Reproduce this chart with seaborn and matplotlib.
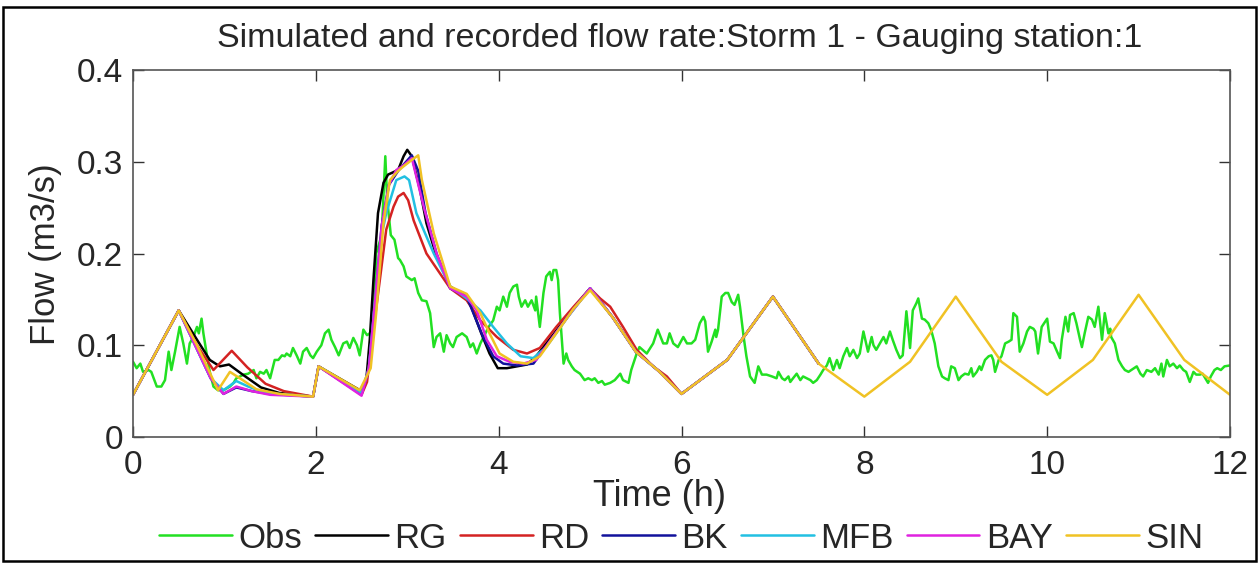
import numpy as np
import pandas as pd
import matplotlib
matplotlib.use('Agg')
import matplotlib.pyplot as plt
from matplotlib.patches import Rectangle
import seaborn as sns

#
# data (time in h, flow in m3/s)
#
obs_t = [0.00, 0.04, 0.08, 0.11, 0.17, 0.20, 0.26, 0.31, 0.35, 0.39, 0.42, 0.46, 0.51, 0.55, 0.59, 0.62,
         0.66, 0.70, 0.72, 0.75, 0.77, 0.81, 0.84, 0.88, 0.93, 0.99, 1.06, 1.10, 1.13, 1.21, 1.26, 1.32,
         1.35, 1.39, 1.43, 1.46, 1.50, 1.55, 1.59, 1.63, 1.66, 1.68, 1.72, 1.75, 1.79, 1.83, 1.86, 1.90,
         1.94, 1.97, 2.01, 2.06, 2.10, 2.14, 2.17, 2.21, 2.25, 2.30, 2.34, 2.37, 2.41, 2.45, 2.48, 2.52,
         2.56, 2.59, 2.63, 2.66, 2.72, 2.76, 2.78, 2.82, 2.86, 2.90, 2.92, 2.96, 2.99, 3.05, 3.08, 3.12,
         3.16, 3.21, 3.25, 3.29, 3.32, 3.36, 3.40, 3.43, 3.47, 3.50, 3.54, 3.60, 3.65, 3.69, 3.72, 3.76,
         3.80, 3.84, 3.89, 3.94, 3.98, 4.01, 4.05, 4.09, 4.12, 4.16, 4.20, 4.22, 4.25, 4.29, 4.32, 4.36,
         4.40, 4.41, 4.45, 4.49, 4.52, 4.56, 4.58, 4.60, 4.63, 4.65, 4.67, 4.71, 4.74, 4.76, 4.80, 4.83,
         4.89, 4.94, 4.98, 5.02, 5.05, 5.09, 5.13, 5.16, 5.22, 5.27, 5.33, 5.36, 5.42, 5.45, 5.51, 5.54,
         5.62, 5.69, 5.74, 5.80, 5.84, 5.87, 5.91, 5.96, 6.02, 6.06, 6.11, 6.15, 6.20, 6.24, 6.26, 6.29,
         6.33, 6.37, 6.38, 6.40, 6.44, 6.48, 6.51, 6.55, 6.58, 6.62, 6.64, 6.68, 6.71, 6.75, 6.80, 6.84,
         6.88, 6.93, 6.99, 7.04, 7.06, 7.10, 7.13, 7.17, 7.19, 7.22, 7.26, 7.30, 7.33, 7.37, 7.41, 7.44,
         7.48, 7.52, 7.55, 7.59, 7.62, 7.66, 7.70, 7.73, 7.77, 7.81, 7.84, 7.88, 7.92, 7.95, 7.99, 8.02,
         8.04, 8.08, 8.10, 8.13, 8.17, 8.21, 8.24, 8.28, 8.31, 8.35, 8.39, 8.42, 8.46, 8.50, 8.53, 8.57,
         8.59, 8.63, 8.66, 8.70, 8.73, 8.77, 8.81, 8.85, 8.88, 8.92, 8.95, 8.99, 9.03, 9.06, 9.10, 9.14,
         9.17, 9.19, 9.23, 9.26, 9.28, 9.32, 9.36, 9.39, 9.41, 9.43, 9.47, 9.50, 9.54, 9.58, 9.61, 9.63,
         9.67, 9.70, 9.74, 9.78, 9.81, 9.85, 9.87, 9.90, 9.94, 9.98, 10.00, 10.03, 10.07, 10.10, 10.14, 10.16,
         10.20, 10.23, 10.25, 10.29, 10.32, 10.36, 10.38, 10.41, 10.45, 10.49, 10.52, 10.56, 10.60, 10.63, 10.67, 10.69,
         10.70, 10.74, 10.78, 10.82, 10.85, 10.89, 10.92, 10.98, 11.02, 11.05, 11.09, 11.14, 11.18, 11.22, 11.25, 11.27,
         11.31, 11.34, 11.38, 11.42, 11.45, 11.49, 11.52, 11.56, 11.60, 11.63, 11.67, 11.70, 11.76, 11.79, 11.83, 11.86,
         11.90, 11.94, 12.00]
obs_q = [0.082, 0.075, 0.080, 0.071, 0.073, 0.071, 0.055, 0.055, 0.062, 0.093, 0.073, 0.093, 0.120, 0.102, 0.080, 0.102,
         0.109, 0.120, 0.113, 0.129, 0.113, 0.088, 0.071, 0.055, 0.051, 0.051, 0.055, 0.059, 0.064, 0.068, 0.069, 0.073,
         0.064, 0.071, 0.069, 0.073, 0.064, 0.084, 0.084, 0.089, 0.088, 0.091, 0.088, 0.097, 0.089, 0.080, 0.093, 0.097,
         0.089, 0.086, 0.093, 0.100, 0.113, 0.117, 0.106, 0.098, 0.089, 0.102, 0.104, 0.097, 0.108, 0.100, 0.089, 0.117,
         0.111, 0.113, 0.124, 0.200, 0.220, 0.306, 0.260, 0.220, 0.215, 0.195, 0.193, 0.186, 0.175, 0.171, 0.173, 0.157,
         0.149, 0.148, 0.135, 0.098, 0.109, 0.113, 0.093, 0.111, 0.102, 0.098, 0.109, 0.113, 0.109, 0.098, 0.102, 0.091,
         0.102, 0.110, 0.120, 0.127, 0.142, 0.138, 0.153, 0.142, 0.157, 0.164, 0.166, 0.153, 0.142, 0.149, 0.142, 0.149,
         0.138, 0.153, 0.120, 0.157, 0.175, 0.180, 0.171, 0.182, 0.182, 0.171, 0.135, 0.080, 0.091, 0.084, 0.077, 0.073,
         0.069, 0.062, 0.064, 0.062, 0.064, 0.059, 0.061, 0.057, 0.059, 0.062, 0.069, 0.062, 0.059, 0.073, 0.091, 0.098,
         0.091, 0.102, 0.117, 0.102, 0.102, 0.113, 0.102, 0.098, 0.109, 0.102, 0.102, 0.106, 0.124, 0.131, 0.126, 0.093,
         0.104, 0.117, 0.109, 0.117, 0.153, 0.157, 0.157, 0.147, 0.144, 0.155, 0.142, 0.109, 0.088, 0.066, 0.059, 0.077,
         0.068, 0.068, 0.066, 0.064, 0.071, 0.064, 0.062, 0.066, 0.060, 0.064, 0.069, 0.062, 0.066, 0.064, 0.062, 0.059,
         0.062, 0.068, 0.073, 0.078, 0.086, 0.073, 0.084, 0.075, 0.088, 0.097, 0.088, 0.095, 0.086, 0.091, 0.115, 0.102,
         0.093, 0.109, 0.100, 0.095, 0.102, 0.109, 0.102, 0.115, 0.106, 0.095, 0.086, 0.089, 0.137, 0.097, 0.138, 0.146,
         0.151, 0.129, 0.128, 0.124, 0.117, 0.102, 0.077, 0.066, 0.064, 0.062, 0.077, 0.075, 0.062, 0.066, 0.069, 0.068,
         0.075, 0.066, 0.071, 0.077, 0.073, 0.084, 0.088, 0.089, 0.084, 0.071, 0.084, 0.088, 0.102, 0.104, 0.106, 0.135,
         0.131, 0.093, 0.102, 0.115, 0.120, 0.118, 0.115, 0.091, 0.120, 0.126, 0.129, 0.104, 0.102, 0.095, 0.086, 0.106,
         0.131, 0.115, 0.133, 0.135, 0.124, 0.106, 0.098, 0.113, 0.131, 0.128, 0.120, 0.142, 0.106, 0.135, 0.113, 0.118,
         0.109, 0.102, 0.084, 0.077, 0.073, 0.071, 0.073, 0.077, 0.069, 0.066, 0.073, 0.071, 0.075, 0.068, 0.080, 0.066,
         0.084, 0.077, 0.080, 0.075, 0.078, 0.073, 0.071, 0.060, 0.071, 0.068, 0.068, 0.069, 0.059, 0.066, 0.073, 0.075,
         0.073, 0.077, 0.078]

rg_t = [0, 0.5, 0.70, 0.84, 0.95, 1.05, 1.2, 1.4, 1.6, 1.97, 2.03, 2.50, 2.55, 2.59, 2.63, 2.68, 2.74, 2.79,
        2.90, 2.96, 3.00, 3.05, 3.14, 3.21, 3.32, 3.47, 3.62, 3.70, 3.81, 3.90, 3.99, 4.09, 4.20, 4.31, 4.41,
        4.6, 4.8, 5.0, 5.25, 5.5, 5.75, 6.0, 6.5, 7.0, 7.5]
rg_q = [0.046, 0.138, 0.106, 0.084, 0.077, 0.079, 0.068, 0.054, 0.048, 0.044, 0.077, 0.050, 0.060, 0.106, 0.171,
        0.244, 0.277, 0.286, 0.291, 0.306, 0.313, 0.306, 0.269, 0.233, 0.197, 0.164, 0.155, 0.142, 0.113, 0.091,
        0.075, 0.075, 0.077, 0.079, 0.088, 0.112, 0.138, 0.162, 0.130, 0.093, 0.072, 0.047, 0.084, 0.153, 0.080]

rd_t = [0, 0.5, 0.70, 0.88, 1.08, 1.25, 1.45, 1.65, 1.97, 2.03, 2.50, 2.56, 2.63, 2.70, 2.77, 2.85, 2.90, 2.96,
        3.01, 3.07, 3.21, 3.36, 3.47, 3.65, 3.80, 3.98, 4.16, 4.31, 4.45, 4.63, 4.82, 5.00, 5.11, 5.22, 5.36,
        5.51, 5.69, 5.84, 6.0, 6.5, 7.0, 7.5]
rd_q = [0.046, 0.138, 0.100, 0.073, 0.094, 0.076, 0.058, 0.050, 0.044, 0.077, 0.046, 0.060, 0.117, 0.171, 0.226,
        0.251, 0.262, 0.266, 0.258, 0.236, 0.200, 0.178, 0.162, 0.149, 0.127, 0.109, 0.095, 0.091, 0.097, 0.120,
        0.142, 0.162, 0.151, 0.142, 0.120, 0.095, 0.077, 0.066, 0.047, 0.084, 0.153, 0.080]

bk_t = [0, 0.5, 0.85, 0.99, 1.13, 1.3, 1.5, 1.97, 2.03, 2.50, 2.58, 2.65, 2.72, 2.80, 2.90, 2.97, 3.05, 3.12,
        3.20, 3.32, 3.47, 3.65, 3.83, 3.94, 4.05, 4.20, 4.38, 4.6, 4.8, 5.0, 5.25, 5.5, 5.75, 6.0, 6.5, 7.0, 7.5]
bk_q = [0.046, 0.138, 0.064, 0.047, 0.054, 0.050, 0.047, 0.044, 0.077, 0.047, 0.075, 0.150, 0.230, 0.275, 0.290,
        0.298, 0.307, 0.290, 0.244, 0.200, 0.162, 0.153, 0.109, 0.088, 0.080, 0.078, 0.080, 0.110, 0.137, 0.162,
        0.130, 0.093, 0.072, 0.047, 0.084, 0.153, 0.080]

mfb_t = [0, 0.5, 0.85, 0.99, 1.13, 1.26, 1.45, 1.97, 2.03, 2.50, 2.58, 2.65, 2.72, 2.77, 2.88, 2.97, 3.02, 3.10,
         3.29, 3.47, 3.65, 3.80, 3.94, 4.09, 4.24, 4.38, 4.52, 4.75, 5.0, 5.25, 5.5, 5.75, 6.0, 6.5, 7.0, 7.5]
mfb_q = [0.046, 0.138, 0.064, 0.051, 0.061, 0.055, 0.048, 0.044, 0.077, 0.048, 0.075, 0.150, 0.220, 0.244, 0.280,
         0.284, 0.280, 0.244, 0.200, 0.164, 0.151, 0.138, 0.120, 0.102, 0.088, 0.086, 0.098, 0.130, 0.162, 0.130,
         0.093, 0.072, 0.047, 0.084, 0.153, 0.080]

bay_t = [0, 0.5, 0.85, 0.99, 1.13, 1.30, 1.5, 1.97, 2.03, 2.50, 2.58, 2.65, 2.72, 2.80, 2.88, 2.96, 3.05, 3.18,
         3.32, 3.47, 3.65, 3.76, 3.87, 3.98, 4.12, 4.27, 4.41, 4.6, 4.8, 5.0, 5.25, 5.5, 5.75, 6.0, 6.5, 7.0, 7.5]
bay_q = [0.046, 0.138, 0.064, 0.047, 0.055, 0.050, 0.046, 0.044, 0.077, 0.045, 0.075, 0.150, 0.230, 0.275, 0.291,
         0.296, 0.304, 0.251, 0.200, 0.162, 0.153, 0.138, 0.106, 0.088, 0.082, 0.080, 0.084, 0.110, 0.137, 0.162,
         0.130, 0.093, 0.072, 0.047, 0.084, 0.153, 0.080]

sin_t = [0, 0.5, 0.7, 0.93, 1.06, 1.2, 1.35, 1.6, 1.97, 2.03, 2.48, 2.6, 2.66, 2.74, 2.81, 2.9, 2.96, 3.05, 3.12,
         3.16, 3.29, 3.47, 3.65, 3.8, 3.9, 4.01, 4.16, 4.31, 4.45, 4.63, 4.82, 5.0, 5.25, 5.5, 5.75, 6.0, 6.5,
         7.0, 7.5, 8.0, 8.5, 9.0, 9.5, 10.0, 10.5, 11.0, 11.5, 12.0]
sin_q = [0.046, 0.138, 0.100, 0.051, 0.071, 0.062, 0.052, 0.047, 0.044, 0.077, 0.051, 0.075, 0.135, 0.233, 0.280,
         0.290, 0.295, 0.302, 0.307, 0.280, 0.222, 0.164, 0.156, 0.135, 0.113, 0.091, 0.082, 0.080, 0.088, 0.113,
         0.140, 0.160, 0.130, 0.093, 0.072, 0.047, 0.084, 0.153, 0.080, 0.044, 0.082, 0.153, 0.082, 0.046, 0.084,
         0.155, 0.084, 0.046]

series_names = ['Obs', 'RG', 'RD', 'BK', 'MFB', 'BAY', 'SIN']
series_colors = ['#22E022', '#000000', '#D42222', '#12129C', '#22C0E2', '#E022E0', '#F0C224']
series_data = [(obs_t, obs_q), (rg_t, rg_q), (rd_t, rd_q), (bk_t, bk_q),
               (mfb_t, mfb_q), (bay_t, bay_q), (sin_t, sin_q)]

x_ticks = [0, 2, 4, 6, 8, 10, 12]
y_ticks = [0, 0.1, 0.2, 0.3, 0.4]
y_tick_labels = ['0', '0.1', '0.2', '0.3', '0.4']

# ========================================
# PLOTTING
# ========================================
sns.set_style('white')
plt.rcParams['font.family'] = ['Liberation Sans', 'DejaVu Sans']
_fs = 24

fig = plt.figure(figsize=(12.59, 5.63), dpi=100)
ax = fig.add_axes([133/1259, 1 - 437/563, (1230 - 133)/1259, (437 - 70)/563])

for name, col, (tt, qq) in zip(series_names, series_colors, series_data):
    df = pd.DataFrame({'t': tt, 'q': qq})
    sns.lineplot(data=df, x='t', y='q', ax=ax, color=col, lw=1.8,
                 estimator=None, sort=False, label=name)

ax.set_xlim(0, 12)
ax.set_ylim(0, 0.4)
ax.set_xticks(x_ticks)
ax.set_yticks(y_ticks)
ax.set_yticklabels(y_tick_labels)
ax.set_xlabel('')
ax.set_ylabel('')
ax.tick_params(axis='both', which='both', direction='in', length=8, width=1,
               color='#333333', labelsize=_fs, top=True, right=True,
               bottom=True, left=True)
ax.tick_params(axis='x', pad=9)
ax.tick_params(axis='y', pad=7)
for sp in ax.spines.values():
    sp.set_color('#555555')
    sp.set_linewidth(1.2)

ax.get_legend().remove()
handles, labels = ax.get_legend_handles_labels()
fig.legend(handles, labels, loc='center', bbox_to_anchor=(681/1259, 1 - 538/563),
           ncol=7, frameon=False, fontsize=25, handlelength=2.1,
           handletextpad=0.18, columnspacing=0.38)

fig.text(680/1259, 1 - 38/563, 'Simulated and recorded flow rate:Storm 1 - Gauging station:1',
         ha='center', va='center', fontsize=24.5)
fig.text(660/1259, 1 - 497/563, 'Time (h)', ha='center', va='center', fontsize=26)
fig.text(46/1259, 1 - 254/563, 'Flow (m3/s)', ha='center', va='center',
         rotation=90, fontsize=25)

fig.patches.append(Rectangle((3/1259, 2/563), 1253/1259, 554/563, transform=fig.transFigure,
                             fill=False, edgecolor='black', lw=1.8))

fig.savefig('out.png', dpi=100)
